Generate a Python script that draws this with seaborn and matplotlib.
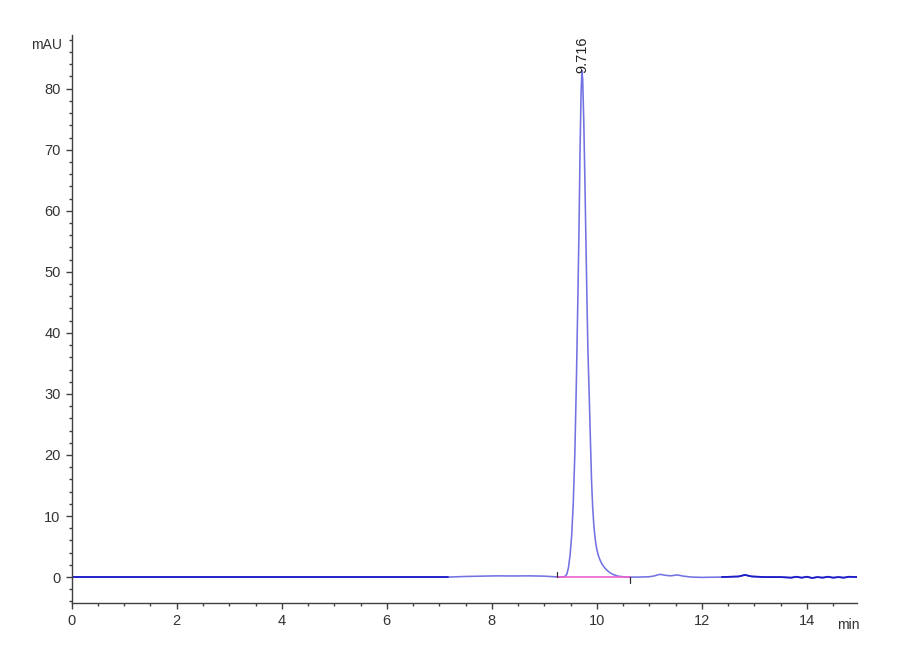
"""
Chromatogram (HPLC trace) redrawn with seaborn.
"""

import numpy as np
import pandas as pd
import matplotlib
matplotlib.use("Agg")
import matplotlib.pyplot as plt
from matplotlib.ticker import MultipleLocator
import seaborn as sns

### Data ###

time_min = [
    0.0, 1.0, 2.0, 3.0, 4.0, 5.0, 6.0, 7.0, 7.17, 7.5, 7.8, 8.1, 8.4, 8.7,
    9.0, 9.2, 9.3, 9.37, 9.40, 9.43, 9.46, 9.49, 9.52, 9.55, 9.58, 9.61,
    9.64, 9.66, 9.68, 9.70, 9.716, 9.73, 9.75, 9.77, 9.79, 9.81, 9.83, 9.86,
    9.88, 9.90, 9.92, 9.94, 9.96, 9.98, 10.00, 10.03, 10.06, 10.10, 10.15,
    10.20, 10.26, 10.33, 10.40, 10.5, 10.63, 10.8, 11.0, 11.1, 11.2, 11.3,
    11.4, 11.53, 11.65, 11.8, 12.0, 12.38, 12.7, 12.82, 12.95, 13.2, 13.5,
    13.7, 13.8, 13.9, 14.0, 14.1, 14.2, 14.3, 14.4, 14.5, 14.6, 14.7, 14.8,
    14.95,
]
signal_mau = [
    0.0, 0.0, 0.0, 0.0, 0.0, 0.0, 0.0, 0.0, 0.0, 0.1, 0.15, 0.2, 0.18, 0.2,
    0.15, 0.05, 0.0, 0.05, 0.15, 0.5, 1.6, 3.6, 6.8, 12.0, 20.0, 32.0,
    46.5, 57.0, 70.0, 79.5, 83.0, 81.5, 75.0, 66.0, 56.0, 46.0, 37.0, 28.0,
    21.5, 15.5, 11.5, 8.8, 6.9, 5.5, 4.5, 3.5, 2.8, 2.1, 1.5,
    1.05, 0.65, 0.35, 0.15, 0.05, 0.0, 0.0, 0.05, 0.2, 0.45, 0.3,
    0.2, 0.35, 0.15, 0.0, -0.05, 0.0, 0.1, 0.35, 0.1, 0.0, 0.0,
    -0.1, 0.05, -0.1, 0.05, -0.15, 0.0, -0.1, 0.05, -0.1, 0.0, -0.1, 0.05,
    0.0,
]

peak_rt = 9.716
integration_start = 9.24
integration_end = 10.63

dark_ranges = [(0.0, 7.17), (12.38, 14.95)]

trace = pd.DataFrame({"time": time_min, "mAU": signal_mau})

### Plot ###

sns.set_style("ticks")
plt.rcParams["font.family"] = ["Liberation Sans", "DejaVu Sans"]

fig = plt.figure(figsize=(9, 6.6), dpi=100)
ax = fig.add_axes([0.0797, 0.0868, 0.8723, 0.8602])

sns.lineplot(data=trace, x="time", y="mAU", ax=ax, color="#7272e2",
             linewidth=1.15, estimator=None, sort=False)
for start, end in dark_ranges:
    part = trace[(trace["time"] >= start) & (trace["time"] <= end)]
    sns.lineplot(data=part, x="time", y="mAU", ax=ax, color="#1c1cc8",
                 linewidth=1.3, estimator=None, sort=False)

# integration baseline with start / end marks
ax.plot([integration_start, integration_end], [0, 0], color="#f060d0",
        linewidth=1.2)
ax.plot([integration_start, integration_start], [0, 0.9], color="#303030",
        linewidth=0.9)
ax.plot([integration_end, integration_end], [0, -1.0], color="#303030",
        linewidth=0.9)

peak_height = max(signal_mau)
ax.text(peak_rt, peak_height - 0.4, f"{peak_rt:.3f}", rotation=90,
        ha="center", va="bottom", fontsize=10.5, color="#222222")

ax.set_xlim(0, 14.95)
ax.set_ylim(-4.2, 88.8)
ax.xaxis.set_minor_locator(MultipleLocator(0.5))
ax.yaxis.set_minor_locator(MultipleLocator(2))
ax.set_xticks(np.arange(0, 15, 2))
ax.set_yticks(np.arange(0, 90, 10))

ax.tick_params(which="major", length=4, width=1, color="#404040",
               labelsize=10.5, labelcolor="#333333", pad=4)
ax.tick_params(which="minor", length=2.5, width=1, color="#404040")
ax.set_xlabel("")
ax.set_ylabel("")

sns.despine(ax=ax)
for side in ["left", "bottom"]:
    ax.spines[side].set_color("#404040")
    ax.spines[side].set_linewidth(1.0)

ax.annotate("mAU", xy=(0, 87.2), xycoords=("axes fraction", "data"),
            xytext=(-7, 0), textcoords="offset points", ha="right",
            va="center", fontsize=10, color="#333333")
ax.annotate("min", xy=(14.79, 0), xycoords=("data", "axes fraction"),
            xytext=(0, -19), textcoords="offset points", ha="center",
            va="baseline", fontsize=10, color="#333333")

fig.savefig("out.png", dpi=100)
